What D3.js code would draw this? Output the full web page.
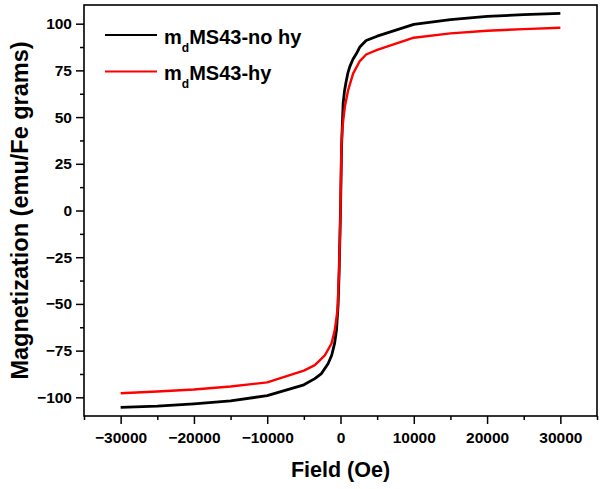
<!DOCTYPE html>
<html>
<head>
<meta charset="utf-8">
<script src="https://cdn.jsdelivr.net/npm/d3@7"></script>
<style>
  html, body { margin: 0; padding: 0; background: #fff; }
  svg { display: block; }
  text { font-family: "Liberation Sans", Arial, sans-serif; font-weight: bold; }
</style>
</head>
<body>
<svg id="chart" width="602" height="489"></svg>
<script>
// ---- data ----
const fieldBlack = [-30000,-25000,-20000,-15000,-10000,-5000,-3500,-2600,-1700,-1200,-800,-550,-320,-180,0,150,360,550,720,1000,1270,1700,2180,2630,3500,5000,10000,15000,20000,25000,30000];
const magBlack   = [-105.4,-104.7,-103.5,-101.9,-99.1,-93.3,-90.0,-87.3,-82.0,-77.5,-71.0,-64.0,-50.0,-32.0,0,35.0,57.3,64.0,68.0,73.5,77.0,81.0,84.0,87.5,91.0,93.3,99.6,102.2,103.9,104.8,105.5];
const fieldRed   = [-30000,-25000,-20000,-15000,-10000,-5000,-3500,-2140,-1230,-780,-410,-190,0,130,270,590,1040,1720,2630,3500,5000,10000,15000,20000,25000,30000];
const magRed     = [-97.8,-96.9,-95.8,-94.2,-92.0,-85.7,-82.8,-77.5,-71.2,-64.0,-53.4,-32.0,0,35.0,44.8,55.5,64.4,73.3,80.0,83.5,86.0,92.5,94.8,96.2,97.1,97.8];
const seriesNames = ["MS43-no hy", "MS43-hy"];
const seriesColors = ["#000000", "#ff0000"];
const xMajorTicks = [-30000,-20000,-10000,0,10000,20000,30000];
const xMinorTicks = [-35000,-25000,-15000,-5000,5000,15000,25000,35000];
const yMajorTicks = [-100,-75,-50,-25,0,25,50,75,100];
const yMinorTicks = [-87.5,-62.5,-37.5,-12.5,12.5,37.5,62.5,87.5];
const xTitle = "Field (Oe)";
const yTitle = "Magnetization (emu/Fe grams)";

// ---- layout ----
const svg = d3.select("#chart");
const L = 84, R = 597, T = 5, B = 416;
const x = d3.scaleLinear().domain([-35000, 35000]).range([L, R]);
const y = d3.scaleLinear().domain([-110, 110]).range([B, T]);

// axes
const xAxis = d3.axisBottom(x).tickValues(xMajorTicks).tickSize(8).tickPadding(8).tickFormat(d3.format("d"));
const gx = svg.append("g").attr("transform", `translate(0,${B})`).call(xAxis);
const xMinor = d3.axisBottom(x).tickValues(xMinorTicks).tickSize(4).tickFormat("");
const gxm = svg.append("g").attr("transform", `translate(0,${B})`).call(xMinor);

const yAxis = d3.axisLeft(y).tickValues(yMajorTicks).tickSize(8).tickPadding(4).tickFormat(d3.format("d"));
const gy = svg.append("g").attr("transform", `translate(${L},0)`).call(yAxis);
const yMinor = d3.axisLeft(y).tickValues(yMinorTicks).tickSize(4).tickFormat("");
const gym = svg.append("g").attr("transform", `translate(${L},0)`).call(yMinor);

[gx, gxm, gy, gym].forEach(g => {
  g.select(".domain").remove();
  g.selectAll(".tick line").attr("stroke", "#000").attr("stroke-width", 1.5);
  g.selectAll(".tick text").attr("fill", "#000")
    .style("font-size", "15.5px").style("font-family", "'Liberation Sans', Arial, sans-serif").style("font-weight", "bold");
});

// frame
svg.append("rect").attr("x", L).attr("y", T).attr("width", R - L).attr("height", B - T)
  .attr("fill", "none").attr("stroke", "#000").attr("stroke-width", 1.6);

// curves
const line = d3.line().x(d => x(d[0])).y(d => y(d[1])).curve(d3.curveLinear);
const dataBlack = fieldBlack.map((f, i) => [f, magBlack[i]]);
const dataRed = fieldRed.map((f, i) => [f, magRed[i]]);
svg.append("path").datum(dataBlack).attr("d", line).attr("fill", "none")
  .attr("stroke", seriesColors[0]).attr("stroke-width", 2.8).attr("stroke-linejoin", "round");
svg.append("path").datum(dataRed).attr("d", line).attr("fill", "none")
  .attr("stroke", seriesColors[1]).attr("stroke-width", 2.4).attr("stroke-linejoin", "round");

// legend
const legendY = [35, 71.5];
seriesNames.forEach((name, i) => {
  const g = svg.append("g");
  g.append("line").attr("x1", 105).attr("x2", 157).attr("y1", legendY[i]).attr("y2", legendY[i])
    .attr("stroke", seriesColors[i]).attr("stroke-width", 2.2);
  const t = g.append("text").attr("x", 164).attr("y", legendY[i] + 8.5)
    .style("font-size", "20px").attr("fill", "#000");
  t.append("tspan").text("m");
  t.append("tspan").attr("dy", 8).style("font-size", "12px").text("d");
  t.append("tspan").attr("dy", -8).text(name);
});

// titles
svg.append("text").attr("x", (L + R) / 2).attr("y", 477).attr("text-anchor", "middle")
  .style("font-size", "21.5px").attr("fill", "#000").text(xTitle);
svg.append("text").attr("transform", `translate(28,${(T + B) / 2}) rotate(-90)`).attr("text-anchor", "middle")
  .style("font-size", "23.5px").attr("fill", "#000").text(yTitle);
</script>
</body>
</html>
